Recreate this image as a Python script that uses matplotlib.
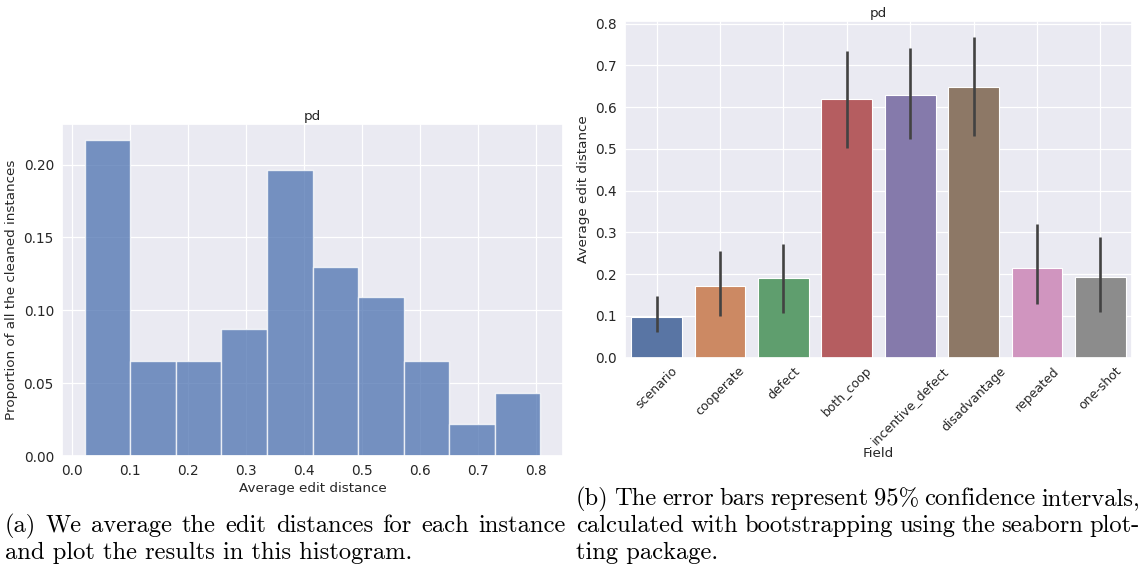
import matplotlib
matplotlib.use("Agg")
import matplotlib.pyplot as plt
import numpy as np
import seaborn as sns

# histogram of per-instance average edit distance
bin_start = 0.022
bin_width = 0.0786
hist_props = [0.217, 0.065, 0.065, 0.087, 0.196, 0.130, 0.109, 0.065, 0.022, 0.043]

# per-field means with bootstrapped 95% CI
fields = ['scenario', 'cooperate', 'defect', 'both_coop', 'incentive_defect',
          'disadvantage', 'repeated', 'one-shot']
field_means = [0.098, 0.171, 0.190, 0.619, 0.628, 0.649, 0.214, 0.192]
ci_low = [0.060, 0.100, 0.106, 0.501, 0.523, 0.532, 0.128, 0.108]
ci_high = [0.148, 0.256, 0.272, 0.734, 0.741, 0.768, 0.319, 0.289]

caption_a = ['(a) We average the edit distances for each instance',
             'and plot the results in this histogram.']
caption_b = ['(b) The error bars represent 95% confidence intervals,',
             'calculated with bootstrapping using the seaborn plot-',
             'ting package.']

sns.set_theme(style='darkgrid')
plt.rcParams['font.family'] = ['DejaVu Sans']
plt.rcParams['grid.linewidth'] = 0.9
tick_fs = 9.8
label_fs = 9.7

W, H = 1141, 569
fig = plt.figure(figsize=(W / 100, H / 100), dpi=100)

def px_axes(x0, y0, x1, y1):
    return fig.add_axes([x0 / W, 1 - y1 / H, (x1 - x0) / W, (y1 - y0) / H])

# left: histogram
ax1 = px_axes(62, 124, 563, 456)
edges = bin_start + bin_width * np.arange(len(hist_props) + 1)
ax1.bar(edges[:-1], hist_props, width=bin_width, align='edge',
        color='#4c72b0', alpha=0.75, edgecolor='white', linewidth=1.0)
ax1.set_xlim(edges[0] - 0.05 * (edges[-1] - edges[0]),
             edges[-1] + 0.05 * (edges[-1] - edges[0]))
ax1.set_ylim(0, max(hist_props) * 1.05)
ax1.set_xticks(np.arange(0, 0.81, 0.1))
ax1.set_yticks(np.arange(0, 0.21, 0.05))
ax1.tick_params(labelsize=tick_fs, length=0, pad=5.8)
ax1.set_xlabel('Average edit distance', fontsize=label_fs, labelpad=3)
ax1.set_ylabel('Proportion of all the cleaned instances', fontsize=label_fs, labelpad=4)
ax1.set_title('pd', fontsize=label_fs, pad=3)

# right: bar chart with error bars
ax2 = px_axes(625, 21, 1132, 357.5)
colors = sns.color_palette('deep', len(fields), desat=0.75)
x = np.arange(len(fields))
ax2.bar(x, field_means, width=0.8, color=colors, edgecolor='white', linewidth=0.8)
ax2.vlines(x, ci_low, ci_high, color='.26', linewidth=1.9)
ax2.set_xlim(-0.5, len(fields) - 0.5)
ax2.set_ylim(0, max(ci_high) * 1.05)
ax2.set_yticks(np.arange(0, 0.81, 0.1))
ax2.set_xticks(x)
ax2.set_xticklabels(fields, rotation=45)
ax2.tick_params(labelsize=tick_fs, length=0, pad=5.8)
ax2.tick_params(axis='x', labelsize=9.0, pad=5.0)
ax2.set_xlabel('Field', fontsize=label_fs, labelpad=0)
ax2.set_ylabel('Average edit distance', fontsize=label_fs, labelpad=4)
ax2.set_title('pd', fontsize=label_fs, pad=3)

# captions under each panel, justified like the paper's text block
cap_font = dict(family=['cmr10', 'DejaVu Serif'], fontsize=17.7, color='black', va='baseline')
renderer = fig.canvas.get_renderer()

def caption_line(text, x0, y, x1=None):
    if x1 is None:
        fig.text(x0 / W, 1 - y / H, text, **cap_font)
        return
    words = text.split(' ')
    items = [fig.text(0, 1 - y / H, w, **cap_font) for w in words]
    widths = [t.get_window_extent(renderer).width for t in items]
    gap = (x1 - x0 - sum(widths)) / (len(words) - 1)
    pos = x0
    for t, w in zip(items, widths):
        t.set_x(pos / W)
        pos += w + gap

caption_line(caption_a[0], 5, 532, 566)
caption_line(caption_a[1], 5, 559)
caption_line(caption_b[0], 576, 505, 1140)
caption_line(caption_b[1], 576, 532, 1140)
caption_line(caption_b[2], 576, 559)

fig.savefig('out.png', dpi=100)
